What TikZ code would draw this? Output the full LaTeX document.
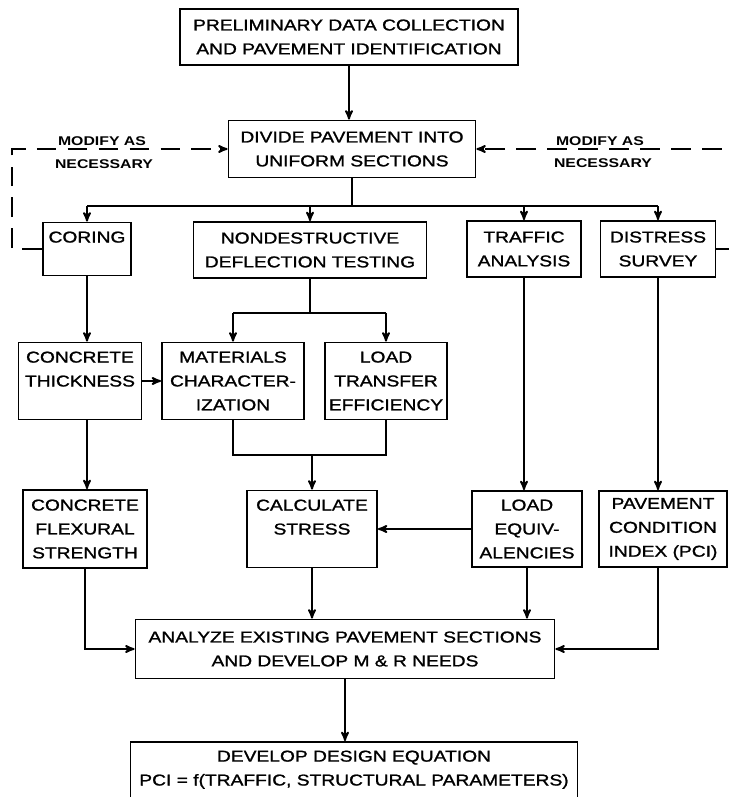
\documentclass[tikz,border=0pt]{standalone}
\usepackage{fontspec}
\setmainfont{Liberation Sans}[FakeStretch=1.22, FakeBold=1.3]
\newfontfamily\modfont{Liberation Sans Bold}[FakeStretch=1.25]
\usepackage{tikz}
\usetikzlibrary{arrows, positioning}

\newdimen\pxu
\pxu=0.025cm

\begin{document}
\begin{tikzpicture}[x=0.025cm, y=-0.025cm,
		>=stealth',
		line width=1.3pt,
		box/.style={draw, rectangle, align=center, inner sep=0pt,
			font=\fontsize{11.2}{17}\selectfont},
		modify/.style={inner sep=0pt, font=\modfont\fontsize{9}{11}\selectfont},
		feedback/.style={dash pattern=on 14pt off 8pt}]
		
		\useasboundingbox (0,0) rectangle (729,797);
		
		% boxes
		\node[box, minimum width=338\pxu, minimum height=56\pxu] (prelim) at (349,37) {PRELIMINARY DATA COLLECTION\\AND PAVEMENT IDENTIFICATION};
		\node[box, minimum width=247\pxu, minimum height=57\pxu] (divide) at (352,149) {DIVIDE PAVEMENT INTO\\UNIFORM SECTIONS};
		
		\node[box, minimum width=88\pxu, minimum height=53\pxu] (coring) at (87,249) {CORING\\\mbox{}};
		\node[box, minimum width=233\pxu, minimum height=56\pxu] (ndt) at (310,250) {NONDESTRUCTIVE\\DEFLECTION TESTING};
		\node[box, minimum width=114\pxu, minimum height=56\pxu] (traffic) at (524,249) {TRAFFIC\\ANALYSIS};
		\node[box, minimum width=115\pxu, minimum height=56\pxu] (distress) at (658,249) {DISTRESS\\SURVEY};
		
		\node[box, minimum width=123\pxu, minimum height=77\pxu] (thick) at (80,381) {CONCRETE\\THICKNESS\\\mbox{}};
		\node[box, minimum width=142\pxu, minimum height=77\pxu] (mat) at (233,381) {MATERIALS\\CHARACTER-\\IZATION};
		\node[box, minimum width=122\pxu, minimum height=77\pxu] (ltrans) at (386,381) {LOAD\\TRANSFER\\EFFICIENCY};
		
		\node[box, minimum width=124\pxu, minimum height=78\pxu] (flex) at (85,529) {CONCRETE\\FLEXURAL\\STRENGTH};
		\node[box, minimum width=130\pxu, minimum height=77\pxu] (calc) at (312,529) {CALCULATE\\STRESS\\\mbox{}};
		\node[box, minimum width=110\pxu, minimum height=76\pxu] (loadeq) at (527,529) {LOAD\\EQUIV-\\ALENCIES};
		\node[box, minimum width=128\pxu, minimum height=76\pxu] (pci) at (663,529) {PAVEMENT\\CONDITION\\INDEX (PCI)};
		
		\node[box, minimum width=419\pxu, minimum height=59\pxu] (analyze) at (345,649) {ANALYZE EXISTING PAVEMENT SECTIONS\\AND DEVELOP M \& R NEEDS};
		\node[box, minimum width=447\pxu, minimum height=76\pxu] (develop) at (354,780) {DEVELOP DESIGN EQUATION\\PCI = f(TRAFFIC, STRUCTURAL PARAMETERS)\\\mbox{}};
		
		% feedback labels
		\node[modify] (modl) at (102,141) {MODIFY AS};
		\node[modify] (necl) at (104,164) {NECESSARY};
		\node[modify] (modr) at (600,141) {MODIFY AS};
		\node[modify] (necr) at (603,163) {NECESSARY};
		
		% main flow
		\draw[->] (prelim.south) -- (prelim.south |- divide.north);
		\coordinate (split) at (352,206);
		\draw (divide.south) -- (split);
		\draw (coring.north |- split) -- (distress.north |- split);
		\foreach \n in {coring, ndt, traffic, distress}
			\draw[->] (\n.north |- split) -- (\n.north);
		
		\draw (ndt.south) -- ++(0,34) coordinate (ndtsplit);
		\draw (mat.north |- ndtsplit) -- (ltrans.north |- ndtsplit);
		\draw[->] (mat.north |- ndtsplit) -- (mat.north);
		\draw[->] (ltrans.north |- ndtsplit) -- (ltrans.north);
		
		\draw[->] (coring.south) -- (coring.south |- thick.north);
		\draw[->] (thick.east) -- (mat.west);
		
		\coordinate (merge) at (310,455);
		\draw (mat.south) -- (mat.south |- merge) -- (ltrans.south |- merge) -- (ltrans.south);
		\draw[->] (calc.north |- merge) -- (calc.north);
		
		\draw[->] (coring.south |- thick.south) -- (coring.south |- flex.north);
		\draw[->] (traffic.south) -- (traffic.south |- loadeq.north);
		\draw[->] (distress.south) -- (distress.south |- pci.north);
		\draw[->] (loadeq.west) -- (loadeq.west -| calc.east);
		
		\draw[->] (flex.south) |- (analyze.west);
		\draw[->] (calc.south) -- (calc.south |- analyze.north);
		\draw[->] (loadeq.south) -- (loadeq.south |- analyze.north);
		\draw[->] (distress.south |- pci.south) |- (analyze.east);
		\draw[->] (analyze.south) -- (analyze.south |- develop.north);
		
		% modify as necessary
		\draw[->, feedback] (coring.west) -- ++(-30,0) |- (divide.west);
		\draw[->, feedback] (distress.east) -- ++(30,0) |- (divide.east);
	\end{tikzpicture}
\end{document}
